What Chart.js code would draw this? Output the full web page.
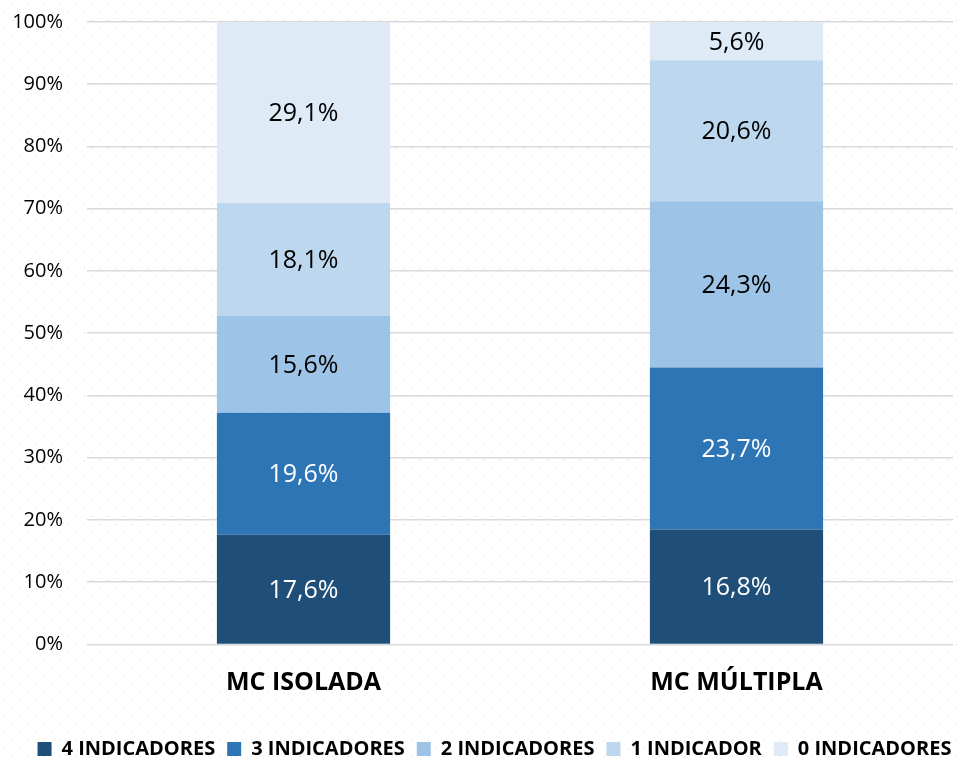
<!DOCTYPE html>
<html>
<head>
<meta charset="utf-8">
<script src="https://cdn.jsdelivr.net/npm/chart.js@4/dist/chart.umd.min.js"></script>
<style>
  html, body { margin: 0; padding: 0; background: #ffffff; }
  #wrap {
    width: 959px; height: 760px; position: relative;
    background-color: #ffffff;
    background-image: url("data:image/svg+xml;utf8,<svg xmlns='http://www.w3.org/2000/svg' width='16' height='16'><rect x='4' y='12' width='1' height='1' fill='%23dcdcdc'/><rect x='12' y='4' width='1' height='1' fill='%23dcdcdc'/></svg>");
    background-size: 16px 16px;
  }
  canvas { display: block; }
</style>
</head>
<body>
<div id="wrap"><canvas id="c" width="959" height="760"></canvas></div>
<script>
const categories = ["MC ISOLADA", "MC MÚLTIPLA"];
const seriesNames = ["4 INDICADORES", "3 INDICADORES", "2 INDICADORES", "1 INDICADOR", "0 INDICADORES"];
const ind4 = [17.6, 16.8];
const ind3 = [19.6, 23.7];
const ind2 = [15.6, 24.3];
const ind1 = [18.1, 20.6];
const ind0 = [29.1, 5.6];
const yTicks = [0, 10, 20, 30, 40, 50, 60, 70, 80, 90, 100];

const colors = ["#1F4E79", "#2E75B6", "#9DC3E6", "#BDD7EE", "#DEEBF7"];
const labelColors = ["#ffffff", "#ffffff", "#000000", "#000000", "#000000"];
const raw = [ind4, ind3, ind2, ind1, ind0];

// 100% stacked: share of each category total
const totals = categories.map((_, i) => raw.reduce((s, arr) => s + arr[i], 0));

const datasets = raw.map((arr, k) => ({
  label: seriesNames[k],
  data: arr.map((v, i) => v / totals[i] * 100),
  rawValues: arr,
  backgroundColor: colors[k],
  borderWidth: 0,
  barPercentage: 0.4,
  categoryPercentage: 1.0
}));

const FONT = "'Open Sans', sans-serif";

const labelPlugin = {
  id: 'segLabels',
  afterLayout(chart) {
    const lg = chart.legend;
    if (lg) { lg.left += 18; lg.right += 18; lg.top += 9; lg.bottom += 9; }
  },
  afterDatasetsDraw(chart) {
    const ctx = chart.ctx;
    ctx.save();
    ctx.font = "25px " + FONT;
    ctx.textAlign = "center";
    ctx.textBaseline = "middle";
    chart.data.datasets.forEach((ds, k) => {
      const meta = chart.getDatasetMeta(k);
      meta.data.forEach((bar, i) => {
        const yMid = (bar.y + bar.base) / 2;
        ctx.fillStyle = labelColors[k];
        ctx.fillText(ds.rawValues[i].toFixed(1).replace('.', ',') + '%', bar.x, yMid + 1.5);
      });
    });
    ctx.restore();
  }
};

new Chart(document.getElementById('c'), {
  type: 'bar',
  data: { labels: categories, datasets },
  options: {
    responsive: false,
    animation: false,
    layout: { padding: { top: 22, right: 6, left: 0, bottom: 0 } },
    scales: {
      x: {
        stacked: true,
        grid: { display: false },
        border: { display: false },
        ticks: { color: "#000000", font: { family: FONT, size: 25, weight: 'bold' }, padding: 15 },
        afterFit(axis) { axis.height = 73.6; }
      },
      y: {
        stacked: true,
        min: 0, max: 100,
        afterBuildTicks(axis) { axis.ticks = yTicks.map(v => ({ value: v })); },
        grid: { color: "#d9d9d9", lineWidth: 1.5, drawTicks: false },
        border: { display: false },
        ticks: {
          color: "#000000",
          font: { family: FONT, size: 20 },
          padding: 24,
          callback: v => v + '%'
        },
        afterFit(axis) { axis.width = 87; axis.paddingTop = 10; axis.paddingBottom = 10; }
      }
    },
    plugins: {
      legend: {
        position: 'bottom',
        labels: {
          color: "#000000",
          font: { family: FONT, size: 20, weight: 'bold' },
          boxWidth: 14, boxHeight: 14,
          padding: 12
        }
      },
      tooltip: { enabled: false }
    }
  },
  plugins: [labelPlugin]
});
</script>
</body>
</html>
